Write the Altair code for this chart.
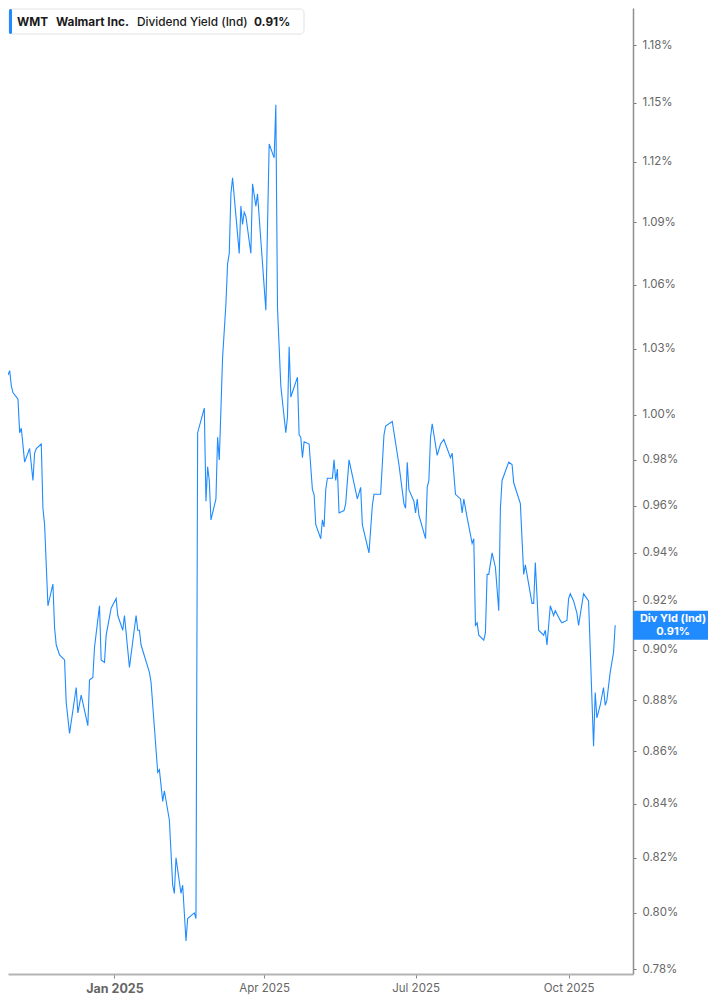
import altair as alt
import pandas as pd

# DATA ---------------------------------------------------------------
dates = [
    "2024-10-29", "2024-10-30", "2024-10-31", "2024-11-01", "2024-11-04",
    "2024-11-05", "2024-11-06", "2024-11-08", "2024-11-11", "2024-11-13",
    "2024-11-14", "2024-11-15", "2024-11-18", "2024-11-19", "2024-11-20",
    "2024-11-22", "2024-11-25", "2024-11-26", "2024-11-27", "2024-11-29",
    "2024-12-02", "2024-12-03", "2024-12-05", "2024-12-09", "2024-12-10",
    "2024-12-12", "2024-12-16", "2024-12-17", "2024-12-19", "2024-12-20",
    "2024-12-23", "2024-12-24", "2024-12-26", "2024-12-27", "2024-12-30",
    "2025-01-02", "2025-01-03", "2025-01-06", "2025-01-07", "2025-01-10",
    "2025-01-14", "2025-01-15", "2025-01-16", "2025-01-17", "2025-01-22",
    "2025-01-23", "2025-01-27", "2025-01-28", "2025-01-30", "2025-01-31",
    "2025-02-03", "2025-02-05", "2025-02-06", "2025-02-07", "2025-02-10",
    "2025-02-11", "2025-02-13", "2025-02-14", "2025-02-18", "2025-02-19",
    "2025-02-20", "2025-02-24", "2025-02-25", "2025-02-26", "2025-02-27",
    "2025-02-28", "2025-03-03", "2025-03-04", "2025-03-05", "2025-03-07",
    "2025-03-09", "2025-03-10", "2025-03-11", "2025-03-12", "2025-03-13",
    "2025-03-17", "2025-03-18", "2025-03-19", "2025-03-20", "2025-03-21",
    "2025-03-24", "2025-03-25", "2025-03-27", "2025-03-28", "2025-04-02",
    "2025-04-04", "2025-04-07", "2025-04-08", "2025-04-09", "2025-04-11",
    "2025-04-14", "2025-04-15", "2025-04-16", "2025-04-17", "2025-04-21",
    "2025-04-22", "2025-04-23", "2025-04-24", "2025-04-25", "2025-04-28",
    "2025-04-30", "2025-05-01", "2025-05-02", "2025-05-05", "2025-05-06",
    "2025-05-07", "2025-05-08", "2025-05-09", "2025-05-12", "2025-05-13",
    "2025-05-14", "2025-05-15", "2025-05-16", "2025-05-19", "2025-05-20",
    "2025-05-22", "2025-05-27", "2025-05-29", "2025-05-30", "2025-06-03",
    "2025-06-05", "2025-06-06", "2025-06-10", "2025-06-12", "2025-06-13",
    "2025-06-17", "2025-06-21", "2025-06-24", "2025-06-25", "2025-06-26",
    "2025-06-27", "2025-06-30", "2025-07-01", "2025-07-02", "2025-07-03",
    "2025-07-07", "2025-07-08", "2025-07-09", "2025-07-10", "2025-07-11",
    "2025-07-14", "2025-07-16", "2025-07-18", "2025-07-22", "2025-07-23",
    "2025-07-25", "2025-07-28", "2025-07-29", "2025-07-30", "2025-08-01",
    "2025-08-04", "2025-08-05", "2025-08-06", "2025-08-07", "2025-08-08",
    "2025-08-11", "2025-08-12", "2025-08-13", "2025-08-14", "2025-08-16",
    "2025-08-18", "2025-08-20", "2025-08-21", "2025-08-22", "2025-08-26",
    "2025-08-28", "2025-08-29", "2025-09-02", "2025-09-04", "2025-09-05",
    "2025-09-09", "2025-09-10", "2025-09-11", "2025-09-13", "2025-09-16",
    "2025-09-17", "2025-09-18", "2025-09-20", "2025-09-22", "2025-09-23",
    "2025-09-26", "2025-09-27", "2025-09-30", "2025-10-01", "2025-10-02",
    "2025-10-04", "2025-10-06", "2025-10-07", "2025-10-10", "2025-10-13",
    "2025-10-16", "2025-10-17", "2025-10-18", "2025-10-20", "2025-10-22",
    "2025-10-23", "2025-10-24", "2025-10-26", "2025-10-28", "2025-10-29",
]

div_yield = [
    1.018, 1.020, 1.013, 1.010, 1.007,
    0.992, 0.994, 0.979, 0.985, 0.971,
    0.983, 0.985, 0.987, 0.959, 0.952,
    0.918, 0.927, 0.909, 0.902, 0.898,
    0.896, 0.879, 0.867, 0.885, 0.875,
    0.882, 0.870, 0.888, 0.889, 0.901,
    0.918, 0.896, 0.895, 0.906, 0.917,
    0.921, 0.914, 0.908, 0.914, 0.893,
    0.914, 0.908, 0.908, 0.902, 0.891,
    0.887, 0.852, 0.853, 0.841, 0.845,
    0.834, 0.810, 0.807, 0.820, 0.807,
    0.810, 0.790, 0.798, 0.800, 0.798,
    0.992, 1.003, 0.962, 0.977, 0.971,
    0.954, 0.963, 0.990, 0.980, 1.026,
    1.051, 1.070, 1.075, 1.104, 1.112,
    1.075, 1.098, 1.089, 1.095, 1.093,
    1.075, 1.109, 1.098, 1.104, 1.048,
    1.129, 1.122, 1.149, 1.049, 1.013,
    0.992, 0.999, 1.031, 1.008, 1.017,
    0.991, 0.990, 0.981, 0.988, 0.987,
    0.967, 0.965, 0.952, 0.946, 0.954,
    0.951, 0.967, 0.972, 0.972, 0.980,
    0.971, 0.976, 0.957, 0.958, 0.961,
    0.980, 0.963, 0.968, 0.952, 0.940,
    0.960, 0.965, 0.965, 0.991, 0.995,
    0.997, 0.978, 0.961, 0.959, 0.979,
    0.967, 0.962, 0.957, 0.963, 0.956,
    0.946, 0.968, 0.971, 0.990, 0.996,
    0.982, 0.987, 0.989, 0.981, 0.983,
    0.965, 0.963, 0.957, 0.963, 0.955,
    0.944, 0.946, 0.910, 0.911, 0.906,
    0.904, 0.907, 0.931, 0.931, 0.940,
    0.934, 0.916, 0.959, 0.971, 0.979,
    0.978, 0.970, 0.961, 0.931, 0.935,
    0.919, 0.919, 0.936, 0.908, 0.906,
    0.908, 0.902, 0.918, 0.914, 0.916,
    0.912, 0.911, 0.912, 0.921, 0.923,
    0.920, 0.915, 0.910, 0.923, 0.920,
    0.862, 0.883, 0.873, 0.878, 0.885,
    0.878, 0.880, 0.891, 0.899, 0.910,
]

y_ticks = [0.78, 0.80, 0.82, 0.84, 0.86, 0.88, 0.90, 0.92, 0.94, 0.96,
           0.98, 1.00, 1.03, 1.06, 1.09, 1.12, 1.15, 1.18]
x_ticks = [alt.DateTime(year=2025, month=m, date=1) for m in [1, 4, 7, 10]]

ticker = "WMT"
company = "Walmart Inc."
metric = "Dividend Yield (Ind)"
last_value = 0.91

df = pd.DataFrame({"date": dates, "yield": div_yield})
one_row = pd.DataFrame({"k": [0]})

BLUE = "#1f8bff"
FONT = "Inter"
W, H = 625, 966

# MAIN LINE ---------------------------------------------------------
line = alt.Chart(df).mark_line(color=BLUE, strokeWidth=1.1, clip=True).encode(
    x=alt.X("date:T",
            scale=alt.Scale(domain=["2024-10-29T00:00:00", "2025-11-08T17:00:00"]),
            axis=alt.Axis(
                values=x_ticks,
                labelExpr="timeFormat(datum.value, '%b %Y')",
                title=None, grid=False,
                domainColor="#b3b3b3", domainWidth=2,
                tickColor="#888", tickSize=4, tickWidth=1,
                labelColor="#666", labelFont=FONT, labelPadding=4,
                labelFontSize={"condition": {"test": "month(datum.value) == 0", "value": 12.5}, "value": 11.5},
                labelFontWeight={"condition": {"test": "month(datum.value) == 0", "value": "bold"}, "value": "normal"},
            )),
    y=alt.Y("yield:Q",
            scale=alt.Scale(type="log", domain=[0.7784, 1.1999], nice=False, zero=False),
            axis=alt.Axis(
                orient="right", values=y_ticks,
                labelExpr="format(datum.value, '.2f') + '%'",
                title=None, grid=False,
                domainColor="#8f8f8f", domainWidth=1.5,
                tickColor="#777", tickSize=3,
                labelColor="#666", labelFont=FONT, labelFontSize=11.5,
                labelPadding=6, labelOverlap=False, labelBound=False,
            )),
)

# LAST VALUE TAG ON THE AXIS ------------------------------------------
tag_box = alt.Chart(one_row).mark_rect(color=BLUE, yOffset=-14.5, y2Offset=14.5).encode(
    x=alt.value(W), x2=alt.value(W + 75), y=alt.datum(last_value), y2=alt.datum(last_value)
)
tag_text = alt.Chart(one_row).mark_text(
    text=["Div Yld (Ind)", f"{last_value:.2f}%"], color="white", font=FONT,
    fontSize=11, fontWeight="bold", lineHeight=12.5, align="center", baseline="middle", dy=-6
).encode(x=alt.value(W + 40), y=alt.datum(last_value))

# HEADER LEGEND -----------------------------------------------------
legend_box = alt.Chart(one_row).mark_rect(
    fill="white", stroke="#e2e2e2", strokeWidth=1, cornerRadius=4
).encode(x=alt.value(1), x2=alt.value(296), y=alt.value(1), y2=alt.value(26))
legend_bar = alt.Chart(one_row).mark_rect(fill=BLUE, cornerRadius=2).encode(
    x=alt.value(1), x2=alt.value(4), y=alt.value(1), y2=alt.value(26)
)

def header_text(txt, xpos, weight):
    return alt.Chart(one_row).mark_text(
        text=txt, font=FONT, fontSize=11.8, fontWeight=weight, color="#1a1a1a",
        align="left", baseline="middle"
    ).encode(x=alt.value(xpos), y=alt.value(14))

chart = alt.layer(
    line, tag_box, tag_text, legend_box, legend_bar,
    header_text(ticker, 9, "bold"),
    header_text(company, 48, "bold"),
    header_text(metric, 129, 500),
    header_text(f"{last_value:.2f}%", 246, "bold"),
).properties(
    width=W, height=H, padding={"left": 0, "top": 0, "right": 0, "bottom": 0}
).configure_view(stroke=None)

chart.save("out.html", embed_options={"renderer": "svg", "actions": False})
